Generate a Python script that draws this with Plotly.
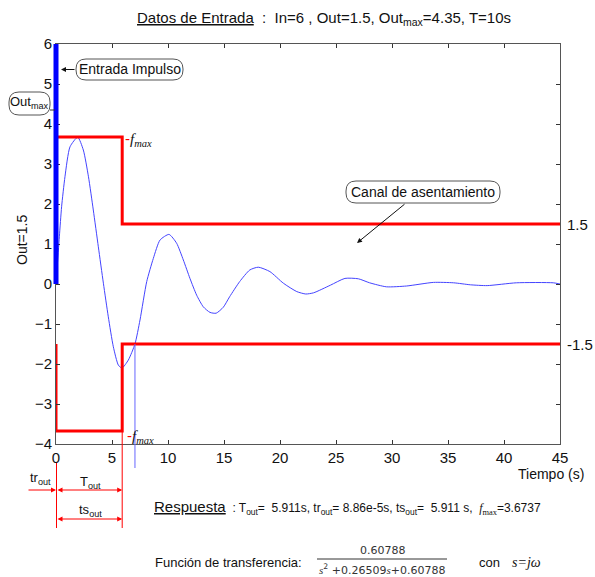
import plotly.graph_objects as go

# ---- figure geometry (pixels) ----
W, H = 595, 577
ML, MR, MT, MB = 56, 35, 44, 133
PW, PH = W - ML - MR, H - MT - MB

# ---- data ----
X_RANGE = [0, 45]
Y_RANGE = [-4, 6]
X_TICKS = [0, 5, 10, 15, 20, 25, 30, 35, 40, 45]
Y_TICKS = [-4, -3, -2, -1, 0, 1, 2, 3, 4, 5, 6]

IN_AMP = 6          # impulse amplitude
OUT_BAND = 1.5      # settling band half-width
OUT_MAX = 4.35
PERIOD = 10
T_OUT = 5.911
TR_OUT = "8.86e-5"
TS_OUT = 5.911
F_MAX = 3.6737
T_CROSS = 7.05      # response re-enters the band

NUM = "0.60788"
DEN_B = "0.26509"
DEN_C = "0.60788"

t_resp = [0, 0.3, 0.5, 0.8, 1.25, 1.94, 2.44, 2.9, 3.33, 3.78, 4.23, 4.67, 5.12,
          5.57, 5.9, 6.46, 7.05, 7.5, 8.1, 8.69, 9.29, 10.09, 10.77, 11.37,
          11.96, 12.56, 13.15, 13.75, 14.3, 14.94, 15.5, 16.4, 17.3, 18.06,
          19.1, 20.3, 21.5, 22.3, 23.0, 24.5, 25.8, 27.0, 28.0, 29.5, 31.3,
          33.7, 35.5, 37.0, 38.5, 41.1, 44.4, 45.0]
y_resp = [0, 1.18, 1.93, 2.68, 3.43, 3.67, 3.35, 2.68, 1.85, 0.93, 0.02, -0.82,
          -1.57, -2.03, -2.1, -1.9, -1.5, -0.9, 0.06, 0.64, 1.1, 1.24, 1.02,
          0.6, 0.14, -0.28, -0.57, -0.71, -0.73, -0.58, -0.32, 0.06, 0.35,
          0.42, 0.31, 0.02, -0.19, -0.25, -0.22, -0.03, 0.14, 0.13, 0.03,
          -0.07, -0.05, 0.04, 0.03, -0.02, -0.04, 0.03, 0.03, 0.0]

# settling channel (upper and lower stepped limits)
band_up_x = [X_RANGE[0], X_RANGE[0], T_OUT, T_OUT, X_RANGE[1]]
band_up_y = [OUT_BAND, F_MAX, F_MAX, OUT_BAND, OUT_BAND]
band_lo_x = [X_RANGE[0], X_RANGE[0], T_OUT, T_OUT, X_RANGE[1]]
band_lo_y = [-OUT_BAND, -F_MAX, -F_MAX, -OUT_BAND, -OUT_BAND]

SANS = "Liberation Sans, Arial, sans-serif"
SERIF = "Liberation Serif, Times New Roman, serif"
RED = "#ff0000"


def px(xp):
    return (xp - ML) / PW


def py(yp):
    return (MT + PH - yp) / PH


def xd(v):
    return (v - X_RANGE[0]) / (X_RANGE[1] - X_RANGE[0])


def yd(v):
    return (v - Y_RANGE[0]) / (Y_RANGE[1] - Y_RANGE[0])


def pill(x0, y0, x1, y1, r=10):
    X0, X1 = px(x0), px(x1)
    Yb, Yt = py(y1), py(y0)
    rx, ry = r / PW, r / PH
    path = (f"M{X0+rx},{Yb} L{X1-rx},{Yb} Q{X1},{Yb} {X1},{Yb+ry} "
            f"L{X1},{Yt-ry} Q{X1},{Yt} {X1-rx},{Yt} L{X0+rx},{Yt} "
            f"Q{X0},{Yt} {X0},{Yt-ry} L{X0},{Yb+ry} Q{X0},{Yb} {X0+rx},{Yb} Z")
    return dict(type="path", xref="paper", yref="paper", path=path,
                line=dict(color="#555555", width=1), fillcolor="white",
                layer="above")


fig = go.Figure()

fig.add_trace(go.Scatter(x=t_resp, y=y_resp, mode="lines",
                         line=dict(color="#4444ff", width=1, shape="spline",
                                   smoothing=0.6),
                         hoverinfo="skip"))
fig.add_trace(go.Scatter(x=band_up_x, y=band_up_y, mode="lines",
                         line=dict(color=RED, width=3), hoverinfo="skip"))
fig.add_trace(go.Scatter(x=band_lo_x, y=band_lo_y, mode="lines",
                         line=dict(color=RED, width=3), hoverinfo="skip"))

shapes = [
    # impulse input bar
    dict(type="line", xref="paper", yref="y", x0=xd(0), x1=xd(0), y0=0,
         y1=IN_AMP, line=dict(color="#0000ff", width=5), layer="above"),
    # band re-entry marker
    dict(type="line", xref="x", yref="paper", x0=T_CROSS, x1=T_CROSS,
         y0=yd(-OUT_BAND), y1=py(468), line=dict(color="#6666ff", width=1)),
    # dimension guides below the axis
    dict(type="line", xref="paper", yref="paper", x0=xd(0) + 0.5 / PW,
         x1=xd(0) + 0.5 / PW, y0=py(463), y1=py(528),
         line=dict(color=RED, width=1)),
    dict(type="line", xref="x", yref="paper", x0=T_OUT, x1=T_OUT,
         y0=yd(-F_MAX), y1=py(528), line=dict(color=RED, width=1)),
    # transfer function fraction bar
    dict(type="line", xref="paper", yref="paper", x0=px(317), x1=px(447),
         y0=py(559), y1=py(559), line=dict(color="#333333", width=1)),
    # Out_max connector
    dict(type="line", xref="paper", yref="paper", x0=px(50), x1=px(55),
         y0=yd(OUT_MAX), y1=yd(OUT_MAX), line=dict(color="#333333", width=1)),
    pill(76, 59, 183, 80),
    pill(9, 92, 50, 115),
    pill(346, 181, 500, 203),
]

ann = []


def text(x, y, s, size=14, family=SANS, xanchor="center", color="#111111",
         xref="paper", yref="paper", **kw):
    ann.append(dict(x=x, y=y, xref=xref, yref=yref, text=s, showarrow=False,
                    xanchor=xanchor, yanchor="middle",
                    font=dict(size=size, family=family, color=color), **kw))


def arrow(x, y, ax, ay, color="#111111", both=False, xref="paper",
          axref="pixel"):
    ann.append(dict(x=x, y=y, xref=xref, yref="paper", ax=ax, ay=ay,
                    axref=axref, ayref="pixel", text="", showarrow=True,
                    arrowhead=2, arrowsize=1, arrowwidth=1, arrowcolor=color,
                    arrowside="end+start" if both else "end",
                    standoff=0, startstandoff=0))


# title
text(px(324), py(18),
     f"<u>Datos de Entrada</u>  :  In={IN_AMP} , Out={OUT_BAND}, "
     f"Out<sub>max</sub>={OUT_MAX}, T={PERIOD}s", size=15)

# boxed labels
text(px(129.5), py(69.5), "Entrada Impulso", size=14)
arrow(px(61), py(69.5), 15, 0)
text(px(29.5), py(102), "Out<sub>max</sub>", size=13)
text(px(423), py(192), "Canal de asentamiento", size=14)
arrow(px(357), py(243), 49, -40)

# f_max marks
fmax_txt = (f"<span style='color:{RED};font-family:Liberation Sans'>-</span>"
            "<i>f</i><sub><i>max</i></sub>")
text(T_OUT, F_MAX, fmax_txt, size=15, family=SERIF, xanchor="left",
     xref="x", yref="y", xshift=1, yshift=-2)
text(T_OUT, -F_MAX, fmax_txt, size=15, family=SERIF, xanchor="left",
     xref="x", yref="y", xshift=3, yshift=-6)

# right-hand band labels
text(1, OUT_BAND, f"{OUT_BAND}", size=15, xanchor="left", yref="y", xshift=5)
text(1, -OUT_BAND, f"-{OUT_BAND}", size=15, xanchor="left", yref="y", xshift=5)

# axis titles
text(px(22), py(240), "Out=1.5", size=14, textangle=-90)
text(px(551), py(474), "Tiempo (s)", size=14)

# time dimension marks
text(px(40), py(478), "tr<sub>out</sub>", size=13)
arrow(0, py(490), -29, 0, color=RED, xref="x")
text(px(90), py(482), "T<sub>out</sub>", size=13)
arrow(T_OUT, py(490), 0, 0, color=RED, both=True, xref="x", axref="x")
text(px(90), py(510), "ts<sub>out</sub>", size=13)
arrow(TS_OUT, py(519), 0, 0, color=RED, both=True, xref="x", axref="x")

# response summary
text(px(152), py(507),
     "<span style='font-size:15px'><u>Respuesta</u></span>"
     f"  : T<sub>out</sub>=  {T_OUT}s, tr<sub>out</sub>= {TR_OUT}s, "
     f"ts<sub>out</sub>=  {TS_OUT} s,  "
     f"<span style='font-family:{SERIF}'><i>f</i><sub>max</sub></span>={F_MAX}",
     size=12, xanchor="left")

# transfer function
text(px(153), py(562), "Función de transferencia:", size=13, xanchor="left")
text(px(383), py(550), NUM, size=11, family="DejaVu Sans", color="#333333")
text(px(382), py(569),
     f"<i style='font-family:{SERIF}'>s</i><sup>2</sup> +{DEN_B}"
     f"<i style='font-family:{SERIF}'>s</i>+{DEN_C}",
     size=11, family="DejaVu Sans", color="#333333")
text(px(477), py(562), "con", size=13, xanchor="left")
text(px(510), py(562), "<i>s=j\u03c9</i>", size=14, family=SERIF,
     xanchor="left")

axis_common = dict(showline=True, linecolor="#555555", linewidth=1,
                   mirror="ticks", ticks="inside", ticklen=4,
                   tickcolor="#333333", showgrid=False, zeroline=False,
                   tickfont=dict(size=15, family=SANS, color="#111111"))

fig.update_layout(
    width=W, height=H,
    margin=dict(l=ML, r=MR, t=MT, b=MB, pad=0),
    paper_bgcolor="white", plot_bgcolor="white",
    showlegend=False,
    xaxis=dict(range=X_RANGE, tickvals=X_TICKS, **axis_common),
    yaxis=dict(range=Y_RANGE, tickvals=Y_TICKS, **axis_common),
    shapes=shapes,
    annotations=ann,
)

fig.write_html("out.html")
